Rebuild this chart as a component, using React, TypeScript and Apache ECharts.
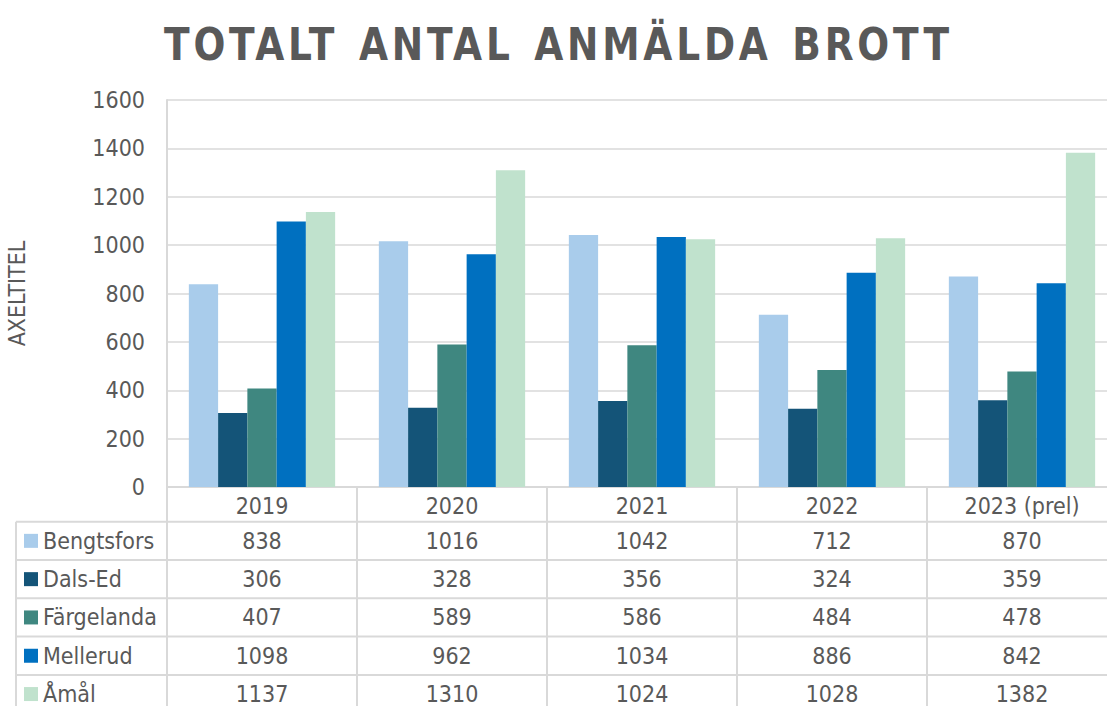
import React, { useEffect, useRef } from "react";
import * as echarts from "echarts";

const categories = ["2019", "2020", "2021", "2022", "2023 (prel)"];
const seriesNames = ["Bengtsfors", "Dals-Ed", "Färgelanda", "Mellerud", "Åmål"];
const bengtsfors = [838, 1016, 1042, 712, 870];
const dalsEd = [306, 328, 356, 324, 359];
const fargelanda = [407, 589, 586, 484, 478];
const mellerud = [1098, 962, 1034, 886, 842];
const amal = [1137, 1310, 1024, 1028, 1382];
const seriesColors = ["#A9CCEB", "#145478", "#3F8780", "#0070C0", "#C0E2CD"];
const yTicks = { min: 0, max: 1600, interval: 200 };
const titleText = "TOTALT ANTAL ANMÄLDA BROTT";
const axisTitle = "AXELTITEL";

const FONT = '"DejaVu Sans Condensed", "DejaVu Sans", sans-serif';
const TEXT = "#595959";
const LINE = "#D9D9D9";

export default function App() {
  const ref = useRef<HTMLDivElement>(null);
  useEffect(() => {
    if (!ref.current) return;
    const chart = echarts.init(ref.current, undefined, { renderer: "svg" });
    const values = [bengtsfors, dalsEd, fargelanda, mellerud, amal];

    // layout
    const gridLeft = 167;
    const gridTop = 100;
    const gridH = 387;
    const axisY = gridTop + gridH;
    const rowH = 38.3;
    const headerBottom = 521.7;
    const tableLeft = 16;
    const rowCenter = (i: number) => headerBottom + rowH * i + rowH / 2;

    // title width fit (with letter / word spacing)
    const LS = 4;
    const WS = 4;
    const canvas = document.createElement("canvas");
    const ctx = canvas.getContext("2d")!;
    ctx.font = `bold 44px ${FONT}`;
    const natural = ctx.measureText(titleText).width || 700;
    const spaces = titleText.split(" ").length - 1;
    const sx = 785 / (natural + (titleText.length - 1) * LS + spaces * WS);

    const tableAxes = values.map((vals, i) => ({
      type: "category",
      gridIndex: 0,
      position: "bottom",
      data: vals.map(String),
      axisLine: { show: false },
      axisTick: { show: false },
      splitLine: { show: false },
      axisLabel: {
        interval: 0,
        margin: rowCenter(i) - axisY,
        verticalAlign: "middle",
        fontSize: 23,
        lineHeight: 20,
        fontFamily: FONT,
        color: TEXT,
      },
    }));

    const tableGraphics: any[] = [];
    for (let i = 0; i < 5; i++) {
      const y = headerBottom + rowH * i;
      tableGraphics.push({
        type: "line",
        shape: { x1: tableLeft, y1: y, x2: 1107, y2: y },
        style: { stroke: LINE, lineWidth: 2 },
      });
    }
    tableGraphics.push({
      type: "line",
      shape: { x1: tableLeft, y1: headerBottom, x2: tableLeft, y2: 706 },
      style: { stroke: LINE, lineWidth: 2 },
    });
    seriesNames.forEach((name, i) => {
      const cy = rowCenter(i);
      tableGraphics.push({
        type: "rect",
        shape: { x: 24, y: cy - 7, width: 14, height: 14 },
        style: { fill: seriesColors[i] },
      });
      tableGraphics.push({
        type: "text",
        x: 43,
        y: cy,
        style: {
          text: name,
          align: "left",
          verticalAlign: "middle",
          fontSize: 23,
          lineHeight: 20,
          fontFamily: FONT,
          fill: TEXT,
        },
      });
    });

    chart.setOption({
      animation: false,
      grid: {
        left: gridLeft,
        top: gridTop,
        width: 950,
        height: gridH,
        containLabel: false,
        outerBoundsMode: "none",
      },
      xAxis: [
        {
          type: "category",
          data: categories,
          axisLine: { show: true, lineStyle: { color: LINE, width: 2 } },
          axisTick: {
            show: true,
            inside: false,
            length: 706 - axisY,
            lineStyle: { color: LINE, width: 2 },
          },
          axisLabel: {
            interval: 0,
            margin: 19,
            verticalAlign: "middle",
            fontSize: 23,
            fontFamily: FONT,
            color: TEXT,
          },
        },
        ...tableAxes,
      ],
      yAxis: {
        type: "value",
        min: yTicks.min,
        max: yTicks.max,
        interval: yTicks.interval,
        name: axisTitle,
        nameLocation: "middle",
        nameGap: 139,
        nameTextStyle: { fontSize: 23, fontFamily: FONT, color: TEXT },
        axisLine: { show: true, lineStyle: { color: LINE, width: 2 } },
        axisTick: { show: false },
        splitLine: { lineStyle: { color: LINE, width: 1.5 } },
        axisLabel: {
          margin: 22,
          fontSize: 23,
          fontFamily: FONT,
          color: TEXT,
          formatter: (v: number) => String(v),
        },
      },
      series: seriesNames.map((name, i) => ({
        type: "bar",
        name,
        data: values[i],
        barGap: "0%",
        barCategoryGap: "23%",
        itemStyle: { color: seriesColors[i] },
      })),
      graphic: [
        {
          type: "text",
          x: 556.5 + (LS * sx) / 2,
          y: 23,
          scaleX: sx,
          style: {
            text: titleText,
            align: "center",
            verticalAlign: "top",
            fontSize: 44,
            fontWeight: "bold",
            fontFamily: FONT,
            fill: TEXT,
          },
        },
        ...tableGraphics,
      ],
    });

    const applySpacing = () => {
      if (!ref.current) return;
      ref.current.querySelectorAll("text").forEach((t) => {
        if (t.textContent === titleText) {
          (t as SVGTextElement).style.letterSpacing = `${LS}px`;
          (t as SVGTextElement).style.wordSpacing = `${WS}px`;
        }
      });
    };
    applySpacing();
    chart.on("finished", applySpacing);

    return () => chart.dispose();
  }, []);
  return (
    <div
      ref={ref}
      style={{ position: "absolute", left: 0, top: 0, width: 1107, height: 706 }}
    />
  );
}
